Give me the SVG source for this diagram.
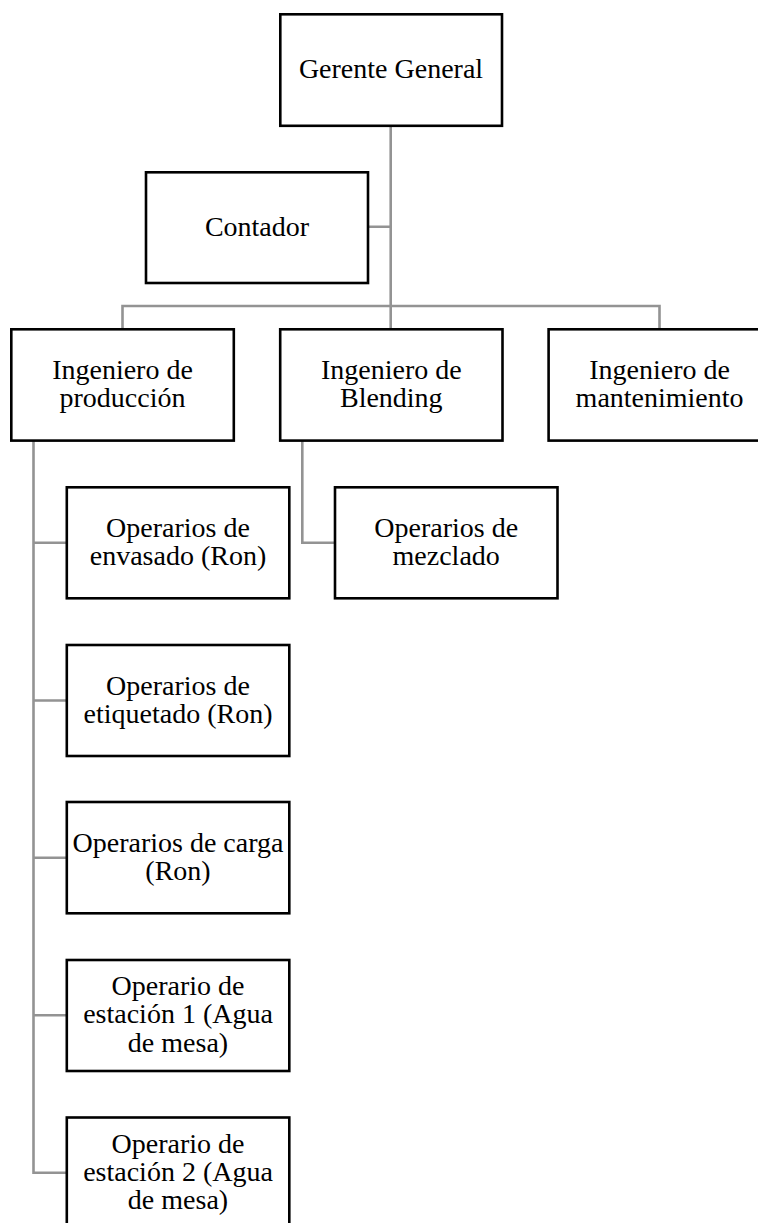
<svg xmlns="http://www.w3.org/2000/svg" width="758" height="1223" viewBox="0 0 758 1223">
<style>
.box{fill:#fff;stroke:#000;stroke-width:2.6}
.t{font-family:"Liberation Serif","Times New Roman",serif;font-size:28px;fill:#000;text-anchor:middle}
.c{fill:none;stroke:#939393;stroke-width:2.6}
</style>
<rect width="758" height="1223" fill="#fff"/>
<g id="connectors">
<path class="c" d="M390.7 126 V306 M368 226.7 H390.7 M122.5 329 V306 H659.5 V329 M390.7 306 V329"/>
<path class="c" d="M33.5 441 V1172.7 H67 M33.5 542.8 H67 M33.5 700.5 H67 M33.5 857.7 H67 M33.5 1015.3 H67"/>
<path class="c" d="M302.3 441 V542.8 H335"/>
</g>
<g id="gerente"><rect class="box" x="280.3" y="14.3" width="221.7" height="111.5"/><text class="t" x="391" y="78.3">Gerente General</text></g>
<g id="contador"><rect class="box" x="146" y="172.3" width="222" height="110.7"/><text class="t" x="257" y="235.7">Contador</text></g>
<g id="ing-produccion"><rect class="box" x="11.3" y="329.3" width="222.5" height="111.3"/><text class="t" x="122.5" y="379.3">Ingeniero de</text><text class="t" x="122.5" y="407.3">producción</text></g>
<g id="ing-blending"><rect class="box" x="280.2" y="329.3" width="222.3" height="111.3"/><text class="t" x="391.3" y="379.3">Ingeniero de</text><text class="t" x="391.3" y="407.3">Blending</text></g>
<g id="ing-mantenimiento"><rect class="box" x="548.6" y="329.3" width="222" height="111.3"/><text class="t" x="659.6" y="379.3">Ingeniero de</text><text class="t" x="659.6" y="407.3">mantenimiento</text></g>
<g id="op-envasado"><rect class="box" x="66.8" y="487.3" width="222.5" height="111"/><text class="t" x="178" y="536.8">Operarios de</text><text class="t" x="178" y="564.8">envasado (Ron)</text></g>
<g id="op-mezclado"><rect class="box" x="335" y="487.3" width="222.5" height="111"/><text class="t" x="446.2" y="536.8">Operarios de</text><text class="t" x="446.2" y="564.8">mezclado</text></g>
<g id="op-etiquetado"><rect class="box" x="66.8" y="645" width="222.5" height="111"/><text class="t" x="178" y="694.5">Operarios de</text><text class="t" x="178" y="722.5">etiquetado (Ron)</text></g>
<g id="op-carga"><rect class="box" x="66.8" y="802" width="222.5" height="111.3"/><text class="t" x="178" y="851.7">Operarios de carga</text><text class="t" x="178" y="879.8">(Ron)</text></g>
<g id="op-estacion1"><rect class="box" x="66.8" y="960" width="222.5" height="111"/><text class="t" x="178" y="995">Operario de</text><text class="t" x="178" y="1023.2">estación 1 (Agua</text><text class="t" x="178" y="1051.5">de mesa)</text></g>
<g id="op-estacion2"><rect class="box" x="66.8" y="1117.5" width="222.5" height="111"/><text class="t" x="178" y="1152.7">Operario de</text><text class="t" x="178" y="1180.9">estación 2 (Agua</text><text class="t" x="178" y="1209">de mesa)</text></g>
</svg>
